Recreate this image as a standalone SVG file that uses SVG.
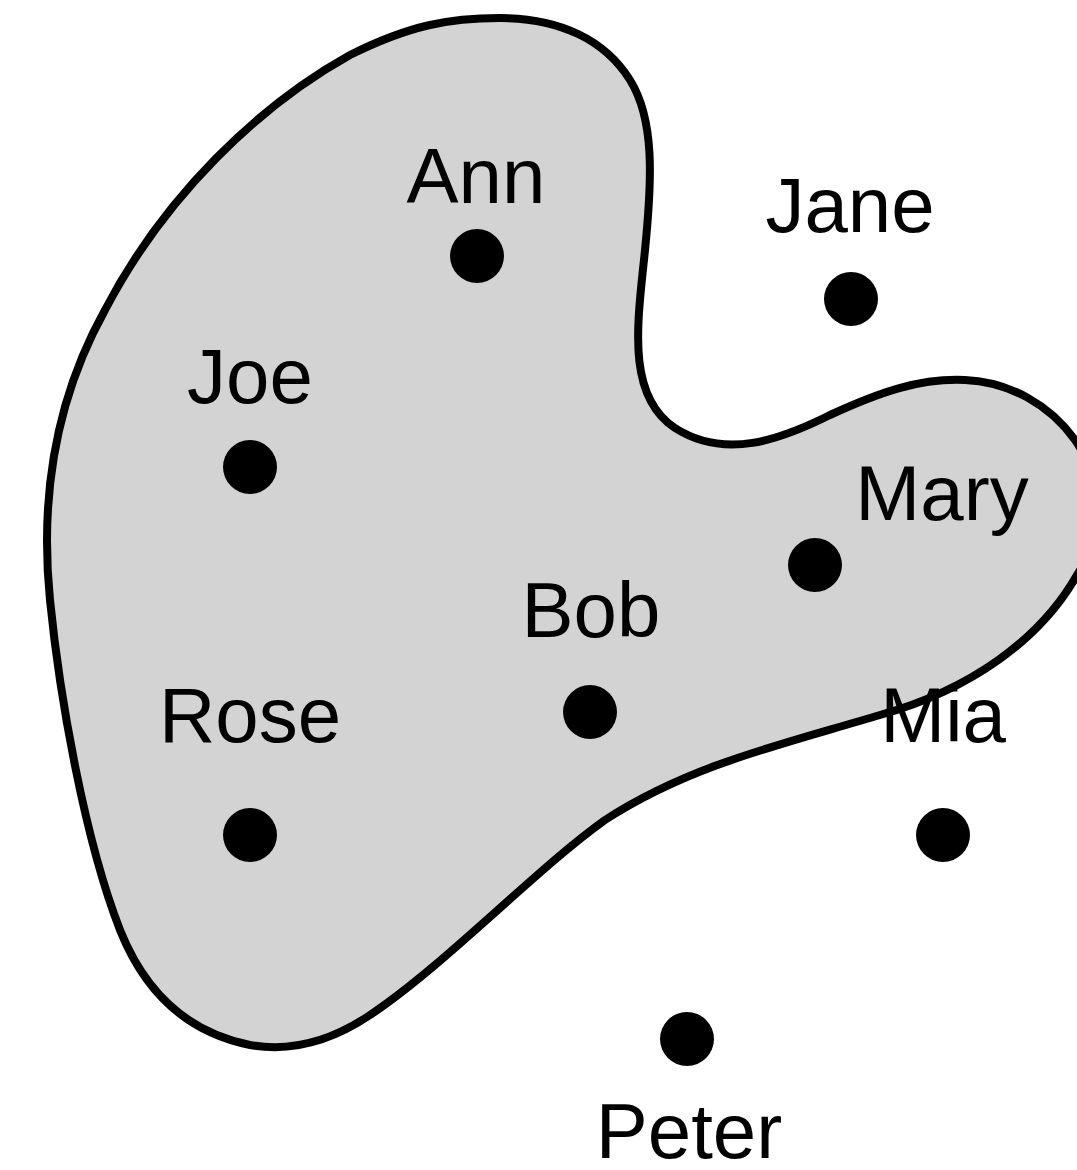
<svg xmlns="http://www.w3.org/2000/svg" width="1077" height="1170" viewBox="0 0 1077 1170">
<style>
.blob{fill:#d3d3d3;stroke:#000;stroke-width:8;stroke-linejoin:round}
.dot{fill:#000}
.lbl{font-family:"Liberation Sans",Arial,sans-serif;font-size:78px;fill:#000;text-anchor:middle}
</style>
<rect width="1077" height="1170" fill="#fff"/>
<g id="set">
<path class="blob" d="M 500,18 C 560,18 605,40 630,80 C 655,120 652,180 645,250 C 638,320 625,395 675,428 C 725,460 780,440 830,415 C 880,392 920,378 965,380 C 1010,382 1050,405 1075,440 C 1110,490 1100,540 1077,575 C 1040,640 970,690 880,715 C 780,745 690,765 605,820 C 535,870 445,965 370,1015 C 330,1042 290,1052 250,1045 C 200,1035 150,1005 120,930 C 85,840 60,700 50,600 C 40,500 55,400 105,310 C 165,195 260,105 350,55 C 410,25 450,18 500,18 Z"/>
</g>
<g id="connectors"></g>
<g id="ann"><circle class="dot" cx="477" cy="256" r="27"/><text class="lbl" x="476" y="203">Ann</text></g>
<g id="jane"><circle class="dot" cx="851" cy="299" r="27"/><text class="lbl" x="850" y="232">Jane</text></g>
<g id="joe"><circle class="dot" cx="250" cy="467" r="27"/><text class="lbl" x="250" y="403">Joe</text></g>
<g id="mary"><circle class="dot" cx="815" cy="565" r="27"/><text class="lbl" x="942" y="520">Mary</text></g>
<g id="bob"><circle class="dot" cx="590" cy="712" r="27"/><text class="lbl" x="591" y="637">Bob</text></g>
<g id="rose"><circle class="dot" cx="250" cy="835" r="27"/><text class="lbl" x="250" y="742">Rose</text></g>
<g id="mia"><circle class="dot" cx="943" cy="835" r="27"/><text class="lbl" x="943" y="742">Mia</text></g>
<g id="peter"><circle class="dot" cx="687" cy="1039" r="27"/><text class="lbl" x="689" y="1158">Peter</text></g>
</svg>
